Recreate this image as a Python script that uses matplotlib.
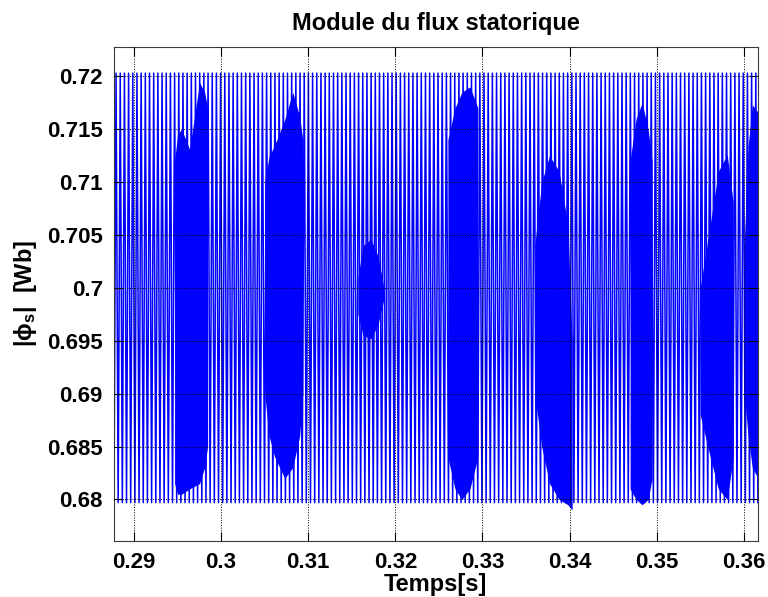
import numpy as np
import matplotlib
matplotlib.use("Agg")
from matplotlib import pyplot as plt

# module du flux statorique (hysteresis DTC)
t_debut, t_fin = 0.2877, 0.3616      # plage temporelle tracee [s]
flux_haut = 0.7203                   # bande haute [Wb]
flux_bas = 0.6797                    # bande basse [Wb]
demi_periode = 0.00024               # demi-periode de commutation [s]

# zones denses (enveloppe haute / basse)
zones_t = [
    [0.29466, 0.29500, 0.29546, 0.29638, 0.29753, 0.29810, 0.29845],
    [0.30500, 0.30550, 0.30615, 0.30730, 0.30822, 0.30902, 0.30937],
    [0.31570, 0.31630, 0.31720, 0.31800, 0.31870],
    [0.32603, 0.32684, 0.32764, 0.32856, 0.32948],
    [0.33600, 0.33680, 0.33770, 0.33880, 0.33980, 0.34030],
    [0.34695, 0.34764, 0.34833, 0.34902, 0.34948],
    [0.35500, 0.35615, 0.35707, 0.35810, 0.35879],
    [0.36005, 0.36050, 0.36098, 0.36163],
]
zones_haut = [
    [0.7120, 0.7145, 0.7150, 0.7131, 0.7194, 0.7185, 0.7170],
    [0.7100, 0.7124, 0.7135, 0.7159, 0.7185, 0.7162, 0.7140],
    [0.7010, 0.7040, 0.7046, 0.7030, 0.7000],
    [0.7140, 0.7170, 0.7185, 0.7190, 0.7170],
    [0.7040, 0.7100, 0.7125, 0.7110, 0.7060, 0.6950],
    [0.7120, 0.7160, 0.7175, 0.7150, 0.7120],
    [0.7000, 0.7060, 0.7110, 0.7126, 0.7080],
    [0.7040, 0.7134, 0.7173, 0.7166],
]
zones_bas = [
    [0.6815, 0.6805, 0.6805, 0.6810, 0.6815, 0.6830, 0.6850],
    [0.6900, 0.6860, 0.6840, 0.6820, 0.6830, 0.6860, 0.6900],
    [0.6975, 0.6955, 0.6952, 0.6965, 0.6990],
    [0.6840, 0.6810, 0.6800, 0.6810, 0.6840],
    [0.6900, 0.6850, 0.6815, 0.6800, 0.6795, 0.6790],
    [0.6810, 0.6800, 0.6795, 0.6800, 0.6820],
    [0.6880, 0.6840, 0.6810, 0.6800, 0.6840],
    [0.6900, 0.6860, 0.6830, 0.6820],
]

x_ticks = [0.29, 0.30, 0.31, 0.32, 0.33, 0.34, 0.35, 0.36]
x_labels = ["0.29", "0.3", "0.31", "0.32", "0.33", "0.34", "0.35", "0.36"]
y_ticks = [0.68, 0.685, 0.69, 0.695, 0.70, 0.705, 0.71, 0.715, 0.72]
y_labels = ["0.68", "0.685", "0.69", "0.695", "0.7", "0.705", "0.71", "0.715", "0.72"]

plt.rcParams["font.family"] = ["Liberation Sans", "DejaVu Sans"]
plt.rcParams["font.weight"] = "bold"
plt.rcParams["mathtext.default"] = "regular"

fig = plt.figure(figsize=(7.68, 5.97), dpi=100)
ax = fig.add_axes([0.1484, 0.0943, 0.8382, 0.8275])

# signal en zigzag entre les deux bandes
t_sig = np.arange(t_debut - demi_periode, t_fin + demi_periode, demi_periode)
flux = np.where(np.arange(len(t_sig)) % 2 == 0, flux_haut, flux_bas)
ax.plot(t_sig, flux, color=(0, 0, 1), linewidth=1.1, zorder=2)

# zones ou la commutation est tres rapide
for tz, hz, bz in zip(zones_t, zones_haut, zones_bas):
    ax.fill_between(tz, bz, hz, color=(0, 0, 1), linewidth=0, zorder=2)

ax.set_xlim(t_debut, t_fin)
ax.set_ylim(0.6761, 0.7228)
ax.set_xticks(x_ticks)
ax.set_xticklabels(x_labels)
ax.set_yticks(y_ticks)
ax.set_yticklabels(y_labels)
ax.tick_params(direction="in", length=6.5, width=0.8, top=True, right=True,
               labelsize=16, pad=8)
ax.grid(True, color="black", linestyle=":", linewidth=0.7, zorder=3)
ax.set_axisbelow(False)
for s in ax.spines.values():
    s.set_linewidth(0.8)
    s.set_color("#3c3c3c")

ax.set_title("Module du flux statorique", fontsize=17, fontweight="bold", pad=12)
ax.set_xlabel("Temps[s]", fontsize=17, fontweight="bold", labelpad=0)
ax.set_ylabel(r"|$\phi_s$|  [Wb]", fontsize=17, fontweight="bold", labelpad=6)

plt.savefig("out.png", dpi=100)
